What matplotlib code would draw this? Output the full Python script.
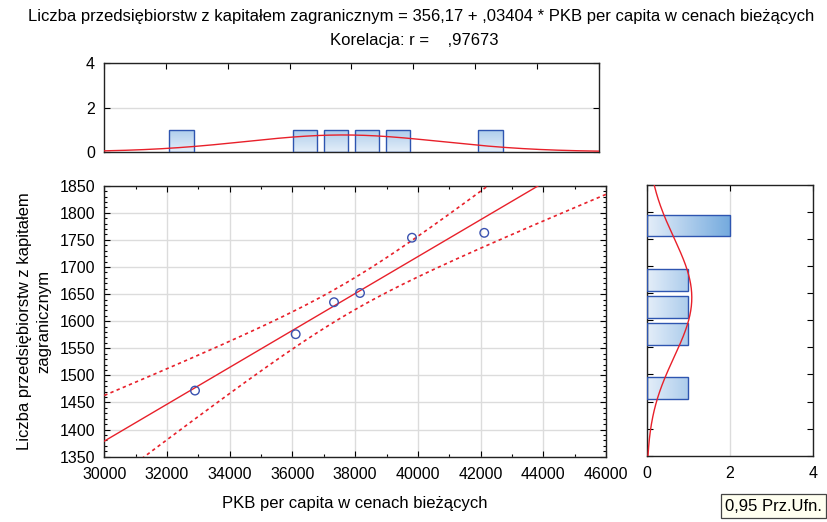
import numpy as np
import matplotlib
matplotlib.use("Agg")
import matplotlib.pyplot as plt
from matplotlib.colors import LinearSegmentedColormap, Normalize
from matplotlib.patches import Rectangle

plt.rcParams['font.family'] = ['Liberation Sans', 'DejaVu Sans']
plt.rcParams['font.size'] = 11.5

# data
pkb = [32892, 36103, 37325, 38154, 39812, 42117]
firmy = [1472, 1576, 1635, 1652, 1754, 1763]

title1 = "Liczba przedsiębiorstw z kapitałem zagranicznym = 356,17 + ,03404 * PKB per capita w cenach bieżących"
title2 = "Korelacja: r =    ,97673"
xlab = "PKB per capita w cenach bieżących"
ylab = "Liczba przedsiębiorstw z kapitałem\nzagranicznym"
legend_txt = "0,95 Prz.Ufn."

x_bins = np.arange(30000, 46001, 1000)
y_bins = np.arange(1350, 1851, 50)

x = np.array(pkb, float)
y = np.array(firmy, float)
n = len(x)

red = '#e8202a'
edge = '#2e55b0'
cmap = LinearSegmentedColormap.from_list('bars', ['#e4eef9', '#74aade'])
norm = Normalize(0, 2)

fig = plt.figure(figsize=(8.28, 5.22), dpi=100)
ax = fig.add_axes([0.126, 0.1251, 0.6059, 0.5192])
axt = fig.add_axes([0.1256, 0.7094, 0.5978, 0.1693])
axr = fig.add_axes([0.781, 0.127, 0.2005, 0.5186])

# regression + 95% CI of mean
b, a = np.polyfit(x, y, 1)
xx = np.linspace(30000, 46000, 200)
fit = a + b * xx
res = y - (a + b * x)
s = np.sqrt(np.sum(res ** 2) / (n - 2))
sxx = np.sum((x - x.mean()) ** 2)
t = 2.776  # t(0.975, 4)
hw = t * s * np.sqrt(1.0 / n + (xx - x.mean()) ** 2 / sxx)

ax.plot(xx, fit, color=red, lw=1.0, zorder=3)
ax.plot(xx, fit + hw, color=red, lw=1.2, ls=(0, (2, 2)), zorder=3)
ax.plot(xx, fit - hw, color=red, lw=1.2, ls=(0, (2, 2)), zorder=3)
ax.scatter(x, y, s=38, facecolors='none', edgecolors='#3a52b0', linewidths=1.0, zorder=4)

ax.set_xlim(30000, 46000)
ax.set_ylim(1350, 1850)
ax.set_xticks(np.arange(30000, 46001, 2000))
ax.set_xticks(np.arange(30000, 46001, 1000), minor=True)
ax.set_yticks(np.arange(1350, 1851, 50))
ax.set_yticks(np.arange(1350, 1851, 10), minor=True)
ax.grid(True, which='major', color='#dcdcdc', lw=1.0, zorder=0)
ax.set_axisbelow(True)
ax.set_xlabel(xlab, labelpad=10, fontsize=12)
ax.set_ylabel(ylab, labelpad=6, linespacing=1.35, fontsize=12)


def style(a_):
    a_.tick_params(which='both', direction='in', top=True, right=True, width=0.8)
    a_.tick_params(which='major', length=4)
    a_.tick_params(which='minor', length=2)
    a_.tick_params(axis='x', pad=7.5)
    a_.tick_params(axis='y', pad=6.5)
    for sp in a_.spines.values():
        sp.set_linewidth(1.0)
        sp.set_color('#222222')


style(ax)


def grad_bar(a_, x0, y0, w, h, horizontal):
    rect = Rectangle((x0, y0), w, h, facecolor='none', edgecolor=edge, lw=1.0, zorder=3)
    a_.add_patch(rect)
    if horizontal:
        g = np.linspace(0, w, 100)[None, :]
    else:
        g = np.linspace(0, h, 100)[::-1][:, None]
    im = a_.imshow(g, extent=[x0, x0 + w, y0, y0 + h], aspect='auto', cmap=cmap,
                   norm=norm, zorder=2, interpolation='bilinear')
    im.set_clip_path(rect)


# top histogram
cx, _ = np.histogram(x, bins=x_bins)
for left, c in zip(x_bins[:-1], cx):
    if c > 0:
        grad_bar(axt, left + 100, 0, 800, c, False)
sx = x.std(ddof=1)
gx = np.linspace(30000, 46000, 300)
axt.plot(gx, n * 1000 * np.exp(-0.5 * ((gx - x.mean()) / sx) ** 2) / (sx * np.sqrt(2 * np.pi)),
         color=red, lw=1.0, zorder=4)
axt.set_xlim(30000, 46000)
axt.set_ylim(0, 4)
axt.set_yticks([0, 2, 4])
axt.set_xticks(np.arange(30000, 46001, 2000))
axt.tick_params(labelbottom=False)
axt.grid(True, axis='y', color='#dcdcdc', lw=1.0, zorder=0)
style(axt)
axt.tick_params(bottom=False)

# right histogram
cy, _ = np.histogram(y, bins=y_bins)
for low, c in zip(y_bins[:-1], cy):
    if c > 0:
        grad_bar(axr, 0, low + 5, c, 40, True)
sy = y.std(ddof=1)
gy = np.linspace(1350, 1850, 300)
axr.plot(n * 50 * np.exp(-0.5 * ((gy - y.mean()) / sy) ** 2) / (sy * np.sqrt(2 * np.pi)), gy,
         color=red, lw=1.0, zorder=4)
axr.set_xlim(0, 4)
axr.set_ylim(1350, 1850)
axr.set_xticks([0, 2, 4])
axr.set_yticks(np.arange(1350, 1851, 50))
axr.tick_params(labelleft=False)
axr.grid(True, axis='x', color='#dcdcdc', lw=1.0, zorder=0)
style(axr)
axr.tick_params(axis='x', bottom=False)

fig.text(0.509, 0.968, title1, ha='center', va='center', fontsize=12)
fig.text(0.5, 0.923, title2, ha='center', va='center', fontsize=12)
fig.text(0.934, 0.0305, legend_txt, ha='center', va='center', fontsize=12,
         bbox=dict(boxstyle='square,pad=0.25', facecolor='#fffff0', edgecolor='#444444', lw=0.9))

fig.savefig('out.png', dpi=100)
